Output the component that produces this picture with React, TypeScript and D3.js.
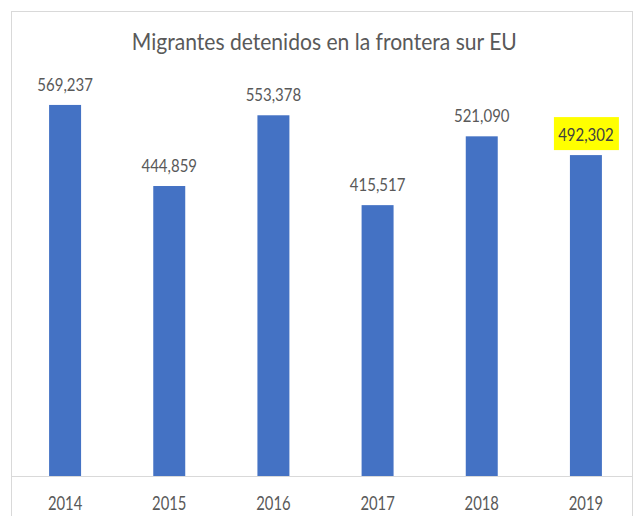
import React from "react";
import * as d3 from "d3";

const title = "Migrantes detenidos en la frontera sur EU";
const years = ["2014", "2015", "2016", "2017", "2018", "2019"];
const values = [569237, 444859, 553378, 415517, 521090, 492302];
const highlighted = ["2019"];
const yMax = 700000;

const W = 636;
const H = 516;
const FONT = "Lato, 'Noto Sans', 'Open Sans', 'Liberation Sans', sans-serif";
const TEXT = "#595959";

export default function App() {
  const x = d3
    .scaleBand<string>()
    .domain(years)
    .range([13, 638])
    .paddingInner(0.693)
    .paddingOuter(0.3465);
  const y = d3.scaleLinear().domain([0, yMax]).range([476, 19.7]);
  const fmt = d3.format(",");

  return (
    <svg
      width={W}
      height={H}
      style={{ position: "absolute", left: 0, top: 0, background: "#fff" }}
    >
      <rect x={0} y={0} width={W} height={H} fill="#fff" />
      <rect
        x={11.5}
        y={11.5}
        width={621}
        height={H}
        fill="#fff"
        stroke="#d9d9d9"
        strokeWidth={1}
      />
      <text
        x={324.3}
        y={50}
        textAnchor="middle"
        fontFamily={FONT}
        fontSize={23}
        fill={TEXT}
        textLength={385}
        lengthAdjust="spacingAndGlyphs"
      >
        {title}
      </text>
      {years.map((yr, i) => {
        const v = values[i];
        const bx = x(yr)!;
        const cx = bx + x.bandwidth() / 2;
        const top = y(v);
        const hl = highlighted.includes(yr);
        return (
          <g key={yr}>
            <rect
              x={bx}
              y={top}
              width={x.bandwidth()}
              height={y(0) - top}
              fill="#4472c4"
            />
            {hl && (
              <rect
                x={cx - 32}
                y={top - 14 - 24}
                width={65}
                height={33}
                fill="#ffff00"
              />
            )}
            <text
              x={cx}
              y={top - 14}
              textAnchor="middle"
              fontFamily={FONT}
              fontSize={18}
              fill={hl ? "#404040" : TEXT}
              textLength={55.5}
              lengthAdjust="spacingAndGlyphs"
            >
              {fmt(v)}
            </text>
            <text
              x={cx}
              y={510}
              textAnchor="middle"
              fontFamily={FONT}
              fontSize={19.5}
              fill={TEXT}
              textLength={34.4}
              lengthAdjust="spacingAndGlyphs"
            >
              {yr}
            </text>
          </g>
        );
      })}
      <line x1={12} x2={632} y1={476.5} y2={476.5} stroke="#d9d9d9" strokeWidth={1} />
    </svg>
  );
}
